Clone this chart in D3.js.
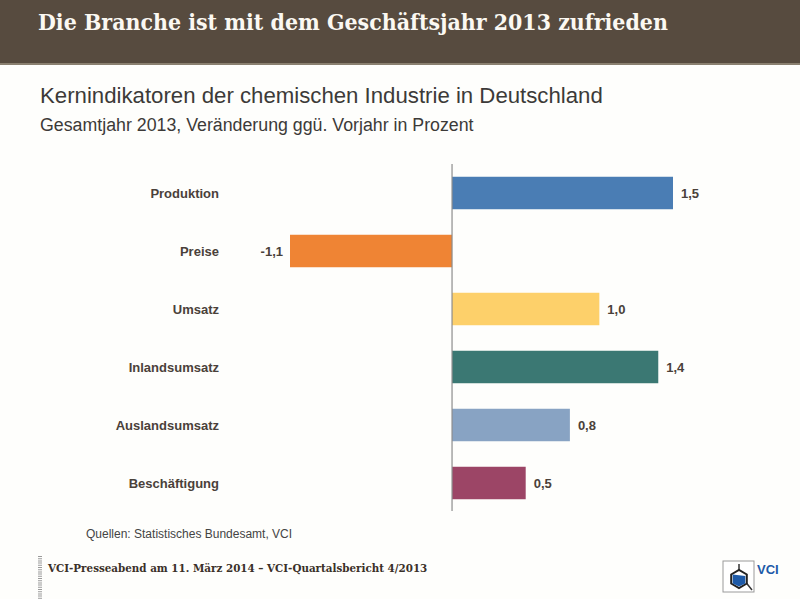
<!DOCTYPE html>
<html>
<head>
<meta charset="utf-8">
<script src="https://cdn.jsdelivr.net/npm/d3@7"></script>
<style>
    body { margin: 0; background: #fefefc; }
    svg { display: block; }
</style>
</head>
<body>
<svg id="chart" width="800" height="599"></svg>
<script>
// Kernindikatoren, Veränderung ggü. Vorjahr in Prozent
const categories = ["Produktion", "Preise", "Umsatz", "Inlandsumsatz", "Auslandsumsatz", "Beschäftigung"];
const values = [1.5, -1.1, 1.0, 1.4, 0.8, 0.5];
const barColors = ["#4a7db4", "#ef8434", "#fdd06a", "#3b7873", "#88a3c3", "#9c4566"];

const svg = d3.select("#chart");
const width = 800;

// fit text to a measured width by scaling font size
function fitWidth(sel, target) {
    const w = sel.node().getComputedTextLength();
    const fs = parseFloat(sel.style("font-size"));
    sel.style("font-size", (fs * target / w) + "px");
}

// header band
svg.append("rect").attr("x", 0).attr("y", 0).attr("width", width).attr("height", 63).attr("fill", "#574b3f");
svg.append("rect").attr("x", 0).attr("y", 63).attr("width", width).attr("height", 2).attr("fill", "#8a8070");

const title = svg.append("text")
    .attr("x", 38).attr("y", 30)
    .style("font-family", "'DejaVu Serif Condensed', 'DejaVu Serif', serif")
    .style("font-stretch", "condensed")
    .style("font-weight", "bold")
    .style("font-size", "22px")
    .attr("fill", "#fbf8f2")
    .text("Die Branche ist mit dem Geschäftsjahr 2013 zufrieden");
fitWidth(title, 630);

const sub1 = svg.append("text")
    .attr("x", 40).attr("y", 103)
    .style("font-family", "'Liberation Sans', Arial, sans-serif")
    .style("font-size", "21px")
    .attr("fill", "#3c3a38")
    .text("Kernindikatoren der chemischen Industrie in Deutschland");
fitWidth(sub1, 563);

const sub2 = svg.append("text")
    .attr("x", 40).attr("y", 131)
    .style("font-family", "'Liberation Sans', Arial, sans-serif")
    .style("font-size", "17px")
    .attr("fill", "#3c3a38")
    .text("Gesamtjahr 2013, Veränderung ggü. Vorjahr in Prozent");
fitWidth(sub2, 434);

// scales
const x = d3.scaleLinear()
    .domain([-1.1, 1.5])
    .range([290, 673]);

const y = d3.scaleBand()
    .domain(categories)
    .range([164, 512])
    .paddingInner(0.44)
    .paddingOuter(0.22);

const data = categories.map((c, i) => ({ name: c, value: values[i], color: barColors[i] }));

svg.selectAll(".bar")
    .data(data)
    .enter().append("rect")
    .attr("class", "bar")
    .attr("x", d => x(Math.min(0, d.value)))
    .attr("y", d => y(d.name))
    .attr("width", d => Math.abs(x(d.value) - x(0)))
    .attr("height", y.bandwidth())
    .attr("fill", d => d.color);

// zero line
svg.append("line")
    .attr("x1", x(0)).attr("x2", x(0))
    .attr("y1", 164).attr("y2", 511)
    .attr("stroke", "#8c8c8c")
    .attr("stroke-width", 1.2);

const fmt = v => d3.format(".1f")(v).replace(".", ",").replace("−", "-");

svg.selectAll(".cat")
    .data(data)
    .enter().append("text")
    .attr("class", "cat")
    .attr("x", 219)
    .attr("y", d => y(d.name) + y.bandwidth() / 2)
    .attr("dy", "0.35em")
    .attr("text-anchor", "end")
    .style("font-family", "'Liberation Sans', Arial, sans-serif")
    .style("font-weight", "bold")
    .style("font-size", "13px")
    .attr("fill", "#4a413a")
    .text(d => d.name);

svg.selectAll(".val")
    .data(data)
    .enter().append("text")
    .attr("class", "val")
    .attr("x", d => d.value < 0 ? x(d.value) - 7 : x(d.value) + 8)
    .attr("y", d => y(d.name) + y.bandwidth() / 2)
    .attr("dy", "0.35em")
    .attr("text-anchor", d => d.value < 0 ? "end" : "start")
    .style("font-family", "'Liberation Sans', Arial, sans-serif")
    .style("font-weight", "bold")
    .style("font-size", "13px")
    .attr("fill", "#4a413a")
    .text(d => fmt(d.value));

// source
svg.append("text")
    .attr("x", 86).attr("y", 538)
    .style("font-family", "'Liberation Sans', Arial, sans-serif")
    .style("font-size", "12px")
    .attr("fill", "#444")
    .text("Quellen: Statistisches Bundesamt, VCI");

// footer
svg.append("line")
    .attr("x1", 40).attr("x2", 40)
    .attr("y1", 556).attr("y2", 599)
    .attr("stroke", "#9a9a9a")
    .attr("stroke-width", 4)
    .attr("stroke-dasharray", "1,1.2");

const foot = svg.append("text")
    .attr("x", 48).attr("y", 572)
    .style("font-family", "'DejaVu Serif', serif")
    .style("font-weight", "bold")
    .style("font-size", "11px")
    .attr("fill", "#3a3028")
    .text("VCI-Presseabend am 11. März 2014 – VCI-Quartalsbericht 4/2013");
fitWidth(foot, 380);

// logo
const logo = svg.append("g").attr("transform", "translate(723,561)");
logo.append("rect").attr("width", 31).attr("height", 31)
    .attr("fill", "#fff").attr("stroke", "#9a9a9a").attr("stroke-width", 1);
const hex = d3.range(6).map(i => {
    const a = Math.PI / 6 + i * Math.PI / 3;
    return [16 + 9 * Math.cos(a), 18 + 9 * Math.sin(a)];
});
logo.append("line").attr("x1", 16).attr("x2", 16).attr("y1", 3).attr("y2", 9)
    .attr("stroke", "#333").attr("stroke-width", 1.5);
logo.append("line").attr("x1", hex[0][0]).attr("y1", hex[0][1]).attr("x2", 29).attr("y2", 29)
    .attr("stroke", "#333").attr("stroke-width", 1.5);
logo.append("path")
    .attr("d", "M" + hex.map(p => p.join(",")).join("L") + "Z")
    .attr("fill", "#fff").attr("stroke", "#222").attr("stroke-width", 2);
logo.append("path")
    .attr("d", `M${hex[0][0] - 1.5},${hex[0][1]}L${hex[1][0]},${hex[1][1] - 1.5}L${hex[2][0] + 1.5},${hex[2][1]}L${hex[3][0] + 1.5},${hex[3][1]}Q16,14 ${hex[0][0] - 1.5},${hex[5][1] + 1.5}Z`)
    .attr("fill", "#1d5aa8");
svg.append("text")
    .attr("x", 757).attr("y", 574)
    .style("font-family", "'Liberation Sans', Arial, sans-serif")
    .style("font-weight", "bold")
    .style("font-size", "13px")
    .attr("fill", "#1d5aa8")
    .text("VCI");
</script>
</body>
</html>
